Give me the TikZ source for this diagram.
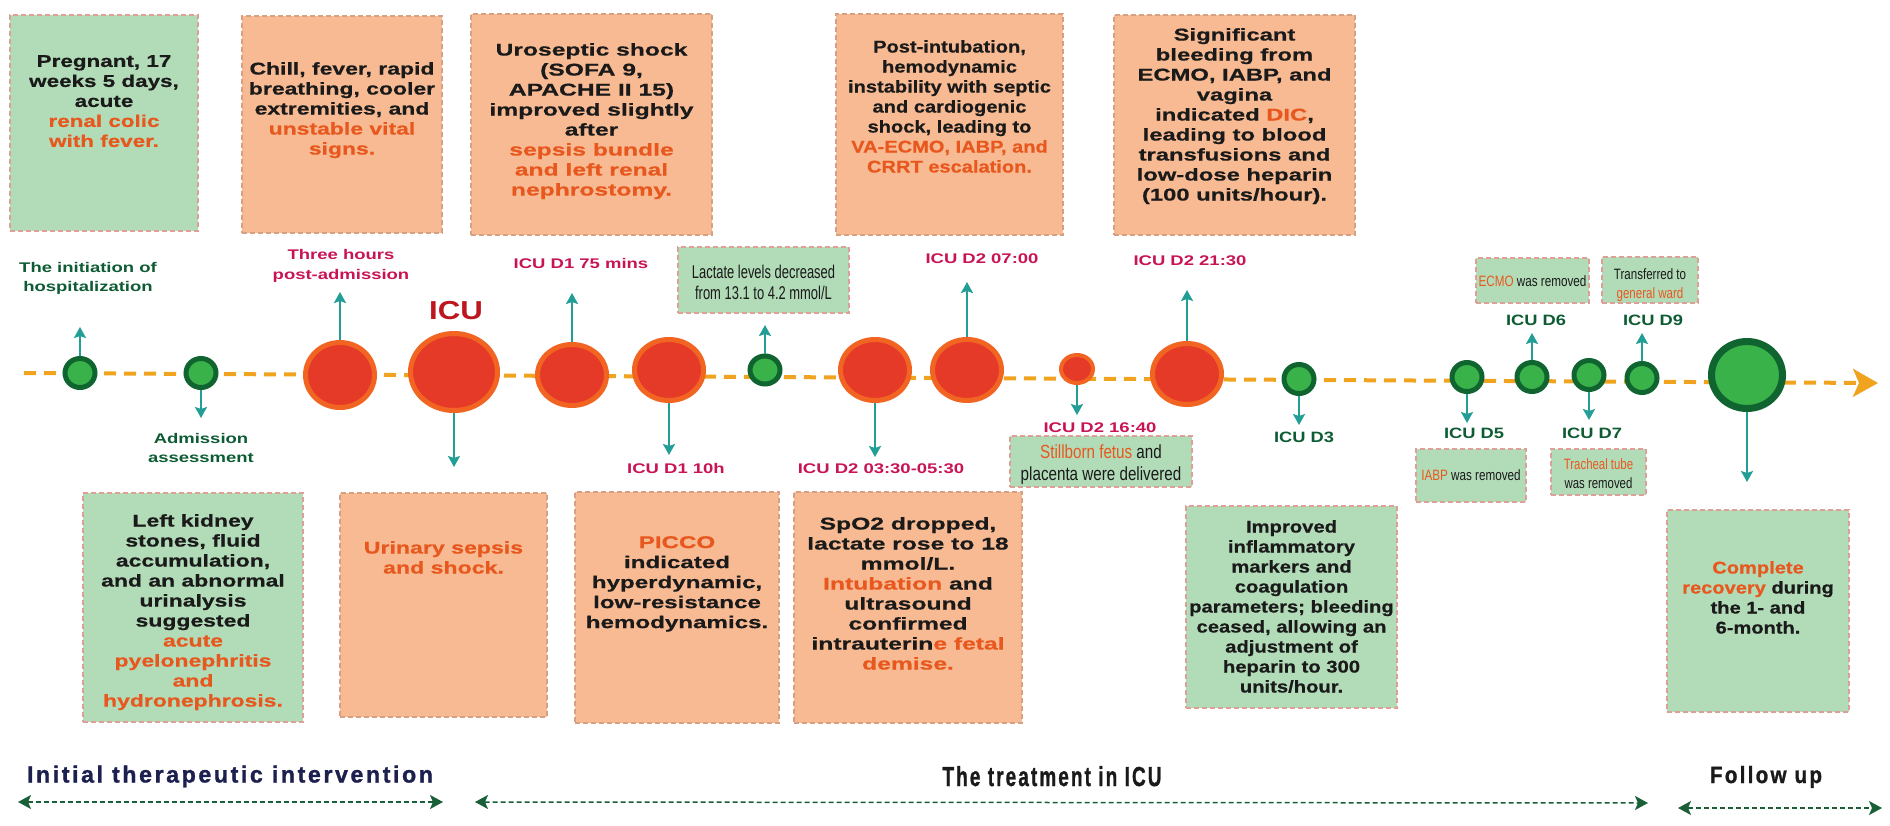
\documentclass[tikz,border=0pt]{standalone}
\usepackage{fontspec}
\setmainfont{Liberation Sans}
\newfontfamily\ttlf[LetterSpace=11,FakeBold=1.2]{Liberation Sans}
\usepackage{graphicx}
\usetikzlibrary{arrows.meta,shapes.geometric,fit}

\definecolor{gfill}{RGB}{178,219,184}
\definecolor{gbord}{RGB}{222,160,150}
\definecolor{ofill}{RGB}{247,186,146}
\definecolor{obord}{RGB}{215,160,130}
\definecolor{txtor}{RGB}{232,88,30}
\definecolor{txtbk}{RGB}{26,26,26}
\definecolor{crim}{RGB}{200,20,85}
\definecolor{dkg}{RGB}{14,92,52}
\definecolor{icured}{RGB}{190,22,30}
\definecolor{tealc}{RGB}{34,158,150}
\definecolor{redout}{RGB}{241,100,34}
\definecolor{redin}{RGB}{230,58,40}
\definecolor{grout}{RGB}{16,100,48}
\definecolor{grin}{RGB}{58,178,74}
\definecolor{tline}{RGB}{240,163,30}
\definecolor{navyc}{RGB}{28,32,78}
\definecolor{barrow}{RGB}{25,95,55}

\newcommand\bxf[1]{\fontsize{17}{20}\selectfont\bfseries\addfontfeature{FakeStretch=#1,FakeBold=0.6}}
\newcommand\lbf[3]{\fontsize{#1}{#2}\selectfont\bfseries\addfontfeature{FakeStretch=#3}}
\newcommand\nrf[3]{\fontsize{#1}{#2}\selectfont\addfontfeature{FakeStretch=#3}}
\newcommand\hlo[1]{\textcolor{txtor}{#1}}

\tikzset{
  gbox/.style={draw=gbord, fill=gfill, dash pattern=on 5pt off 3pt, line width=1.2pt, inner sep=0pt},
  obox/.style={draw=obord, fill=ofill, dash pattern=on 5pt off 3pt, line width=1.2pt, inner sep=0pt},
  btext/.style={align=center, inner sep=0pt, text=txtbk, anchor=north, font=\bxf{#1}},
  ntext/.style={align=center, inner sep=0pt, text=txtbk},
  crimlab/.style={align=center, inner sep=0pt, anchor=base, text=crim, font=\lbf{14}{20}{1.32}},
  greenlab/.style={align=center, inner sep=0pt, anchor=base, text=dkg, font=\lbf{14}{19}{1.32}},
  dlab/.style={align=center, inner sep=0pt, anchor=base, text=dkg, font=\lbf{15}{19}{1.22}},
  redc/.style={ellipse, fill=redin, draw=redout, line width=5pt, minimum width=69pt, minimum height=61pt, inner sep=0pt},
  grc/.style={ellipse, fill=grin, draw=grout, line width=5pt, minimum width=30pt, minimum height=29pt, inner sep=0pt},
  arr/.style={draw=tealc, line width=2pt, -{Stealth[length=11pt,width=12pt,inset=2pt]}},
  tlstyle/.style={draw=tline, line width=4pt, dash pattern=on 12pt off 8pt, -{Stealth[length=25pt,width=28pt,inset=6pt]}},
  botarr/.style={draw=barrow, line width=1.5pt, dash pattern=on 5pt off 3pt,
     {Stealth[length=13pt,width=14pt,inset=3pt]}-{Stealth[length=13pt,width=14pt,inset=3pt]}},
}

\begin{document}
\begin{tikzpicture}[x=1pt,y=-1pt]
\useasboundingbox (0,0) rectangle (1890,825);
\fill[white] (0,0) rectangle (1890,825);

% ---------- top boxes ----------
\node[gbox, fit={(10,15)(198,231)}] (b1) {};
\node[obox, fit={(242,16)(442,233)}] (b2) {};
\node[obox, fit={(471,14)(712,235)}] (b3) {};
\node[obox, fit={(836,14)(1063,235)}] (b4) {};
\node[obox, fit={(1114,15)(1355,235)}] (b5) {};

\node[btext=1.32] (t1) at (104,55) {Pregnant, 17\\weeks 5 days,\\acute\\\hlo{renal colic}\\\hlo{with fever.}};
\node[btext=1.35] (t2) at (342,62) {Chill, fever, rapid\\breathing, cooler\\extremities, and\\\hlo{unstable vital}\\\hlo{signs.}};
\node[btext=1.45] (t3) at (591.5,43) {Uroseptic shock\\(SOFA 9,\\APACHE II 15)\\improved slightly\\after\\\hlo{sepsis bundle}\\\hlo{and left renal}\\\hlo{nephrostomy.}};
\node[btext=1.18] (t4) at (949.5,40) {Post-intubation,\\hemodynamic\\instability with septic\\and cardiogenic\\shock, leading to\\\hlo{VA-ECMO, IABP, and}\\\hlo{CRRT escalation.}};
\node[btext=1.4] (t5) at (1234.5,28) {Significant\\bleeding from\\ECMO, IABP, and\\vagina\\indicated \hlo{DIC},\\leading to blood\\transfusions and\\low-dose heparin\\(100 units/hour).};

% ---------- bottom boxes ----------
\node[gbox, fit={(83,493)(303,722)}] (b6) {};
\node[obox, fit={(340,493)(547,717)}] (b7) {};
\node[obox, fit={(575,492)(779,723)}] (b8) {};
\node[obox, fit={(794,492)(1022,723)}] (b9) {};
\node[gbox, fit={(1186,506)(1397,708)}] (b10) {};
\node[gbox, fit={(1667,510)(1849,712)}] (b11) {};

\node[btext=1.35] (t6) at (193,514) {Left kidney\\stones, fluid\\accumulation,\\and an abnormal\\urinalysis\\suggested\\\hlo{acute}\\\hlo{pyelonephritis}\\\hlo{and}\\\hlo{hydronephrosis.}};
\node[btext=1.36] (t7) at (443.5,541) {\hlo{Urinary sepsis}\\\hlo{and shock.}};
\node[btext=1.42] (t8) at (677,536) {\hlo{PICCO}\\indicated\\hyperdynamic,\\low-resistance\\hemodynamics.};
\node[btext=1.45] (t9) at (908,517) {SpO2 dropped,\\lactate rose to 18\\mmol/L.\\\hlo{Intubation} and\\ultrasound\\confirmed\\intrauterin\hlo{e fetal}\\\hlo{demise.}};
\node[btext=1.19] (t10) at (1291.5,520) {Improved\\inflammatory\\markers and\\coagulation\\parameters; bleeding\\ceased, allowing an\\adjustment of\\heparin to 300\\units/hour.};
\node[btext=1.18] (t11) at (1758,561) {\hlo{Complete}\\\hlo{recovery} during\\the 1- and\\6-month.};

% ---------- small boxes ----------
\node[gbox, fit={(678,247)(849,313)}] (sl) {};
\node[gbox, fit={(1010,436)(1192,487)}] (ss) {};
\node[gbox, fit={(1416,449)(1526,502)}] (si) {};
\node[gbox, fit={(1551,449)(1646,495)}] (st) {};
\node[gbox, fit={(1476,258)(1589,303)}] (se) {};
\node[gbox, fit={(1602,257)(1698,303)}] (sg) {};

\node[ntext, anchor=north, font=\nrf{18.5}{21}{0.70}] (tl) at (763.5,265) {Lactate levels decreased\\from 13.1 to 4.2 mmol/L};
\node[ntext, anchor=north, font=\nrf{19}{22}{0.80}] (ts) at (1101,444.5) {\hlo{Stillborn fetus} and\\placenta were delivered};
\node[ntext, anchor=base, font=\nrf{15}{19}{0.78}] (ti) at (1471,480.5) {\hlo{IABP} was removed};
\node[ntext, anchor=north, font=\nrf{15}{19}{0.76}] (tt) at (1598.5,458) {\hlo{Tracheal tube}\\was removed};
\node[ntext, anchor=base, font=\nrf{15}{19}{0.78}] (te) at (1532.5,286.5) {\hlo{ECMO} was removed};
\node[ntext, anchor=north, font=\nrf{15}{19}{0.77}] (tg) at (1650,268) {Transferred to\\\hlo{general ward}};

% ---------- timeline ----------
\coordinate (tl0) at (24,373);
\coordinate (tl1) at (1878,383);
\draw[tlstyle] (tl0) -- (tl1);

% ---------- circles ----------
\node[grc] (c1) at (80,373) {};
\node[grc] (c2) at (201,373) {};
\node[redc, minimum height=65pt] (r1) at (340,375) {};
\node[redc, minimum width=87pt, minimum height=77pt] (ricu) at (454,372) {};
\node[redc] (r3) at (572,375) {};
\node[redc] (r4) at (669,370) {};
\node[grc, minimum height=28pt] (c3) at (765,370) {};
\node[redc] (r5) at (875,370) {};
\node[redc] (r6) at (967,370) {};
\node[redc, line width=4pt, minimum width=32pt, minimum height=28pt] (r7) at (1077,369) {};
\node[redc] (r8) at (1187,374) {};
\node[grc] (d3) at (1299,379) {};
\node[grc] (d5) at (1467,377) {};
\node[grc] (d6) at (1532,377) {};
\node[grc] (d7) at (1589,375) {};
\node[grc] (d9) at (1642,378) {};
\node[grc, line width=7pt, minimum width=71pt, minimum height=67pt] (cbig) at (1747,375) {};

% ---------- arrow ends ----------
\coordinate (e1) at (80,327);
\coordinate (e2) at (201,418);
\coordinate (e3) at (340,292);
\coordinate (e4) at (454,467);
\coordinate (e5) at (572,293);
\coordinate (e6) at (669,455);
\coordinate (e7) at (765,325);
\coordinate (e8) at (875,457);
\coordinate (e9) at (967,282);
\coordinate (e10) at (1077,415);
\coordinate (e11) at (1187,290);
\coordinate (e12) at (1299,425);
\coordinate (e13) at (1467,423);
\coordinate (e14) at (1532,333);
\coordinate (e15) at (1589,420);
\coordinate (e16) at (1642,333);
\coordinate (e17) at (1747,482);

\draw[arr] (c1) -- (e1);
\draw[arr] (c2) -- (e2);
\draw[arr] (r1) -- (e3);
\draw[arr] (ricu) -- (e4);
\draw[arr] (r3) -- (e5);
\draw[arr] (r4) -- (e6);
\draw[arr] (c3) -- (e7);
\draw[arr] (r5) -- (e8);
\draw[arr] (r6) -- (e9);
\draw[arr] (r7) -- (e10);
\draw[arr] (r8) -- (e11);
\draw[arr] (d3) -- (e12);
\draw[arr] (d5) -- (e13);
\draw[arr] (d6) -- (e14);
\draw[arr] (d7) -- (e15);
\draw[arr] (d9) -- (e16);
\draw[arr] (cbig) -- (e17);

% ---------- labels ----------
\node[greenlab, anchor=north] (l1) at (88,262.5) {The initiation of\\hospitalization};
\node[greenlab, anchor=north] (l2) at (201,433.5) {Admission\\assessment};
\node[crimlab, anchor=north] (l3) at (341,249.5) {Three hours\\post-admission};
\node[inner sep=0pt, anchor=base, text=icured, font=\lbf{26}{30}{1.2}] (licu) at (456,319) {ICU};
\node[crimlab] (l5) at (581,268) {ICU D1 75 mins};
\node[crimlab] (l6) at (676,473) {ICU D1 10h};
\node[crimlab] (l8) at (881,473) {ICU D2 03:30-05:30};
\node[crimlab] (l9) at (982,263) {ICU D2 07:00};
\node[crimlab] (l10) at (1100,432) {ICU D2 16:40};
\node[crimlab] (l11) at (1190,265) {ICU D2 21:30};
\node[dlab] (l12) at (1304,442) {ICU D3};
\node[dlab] (l13) at (1474,438) {ICU D5};
\node[dlab] (l14) at (1536,325) {ICU D6};
\node[dlab] (l15) at (1592,438) {ICU D7};
\node[dlab] (l16) at (1653,325) {ICU D9};

% ---------- phases ----------
\node[inner sep=0pt, anchor=base, text=navyc] (p1) at (230,782.5)
  {\resizebox{406pt}{\height}{\ttlf\bfseries\fontsize{23.3}{28}\selectfont Initial therapeutic intervention}};
\node[inner sep=0pt, anchor=base, text=txtbk] (p2) at (1052,786)
  {\resizebox{219pt}{\height}{\ttlf\bfseries\fontsize{27.5}{32}\selectfont The treatment in ICU}};
\node[inner sep=0pt, anchor=base, text=txtbk] (p3) at (1766,783)
  {\resizebox{112pt}{\height}{\ttlf\bfseries\fontsize{23.5}{28}\selectfont Follow up}};

\coordinate (a1) at (18,802);
\coordinate (a2) at (443,802);
\coordinate (a3) at (475,802);
\coordinate (a4) at (1648,803);
\coordinate (a5) at (1678,808);
\coordinate (a6) at (1882,808);
\draw[botarr] (a1) -- (a2);
\draw[botarr] (a3) -- (a4);
\draw[botarr] (a5) -- (a6);
\end{tikzpicture}
\end{document}
